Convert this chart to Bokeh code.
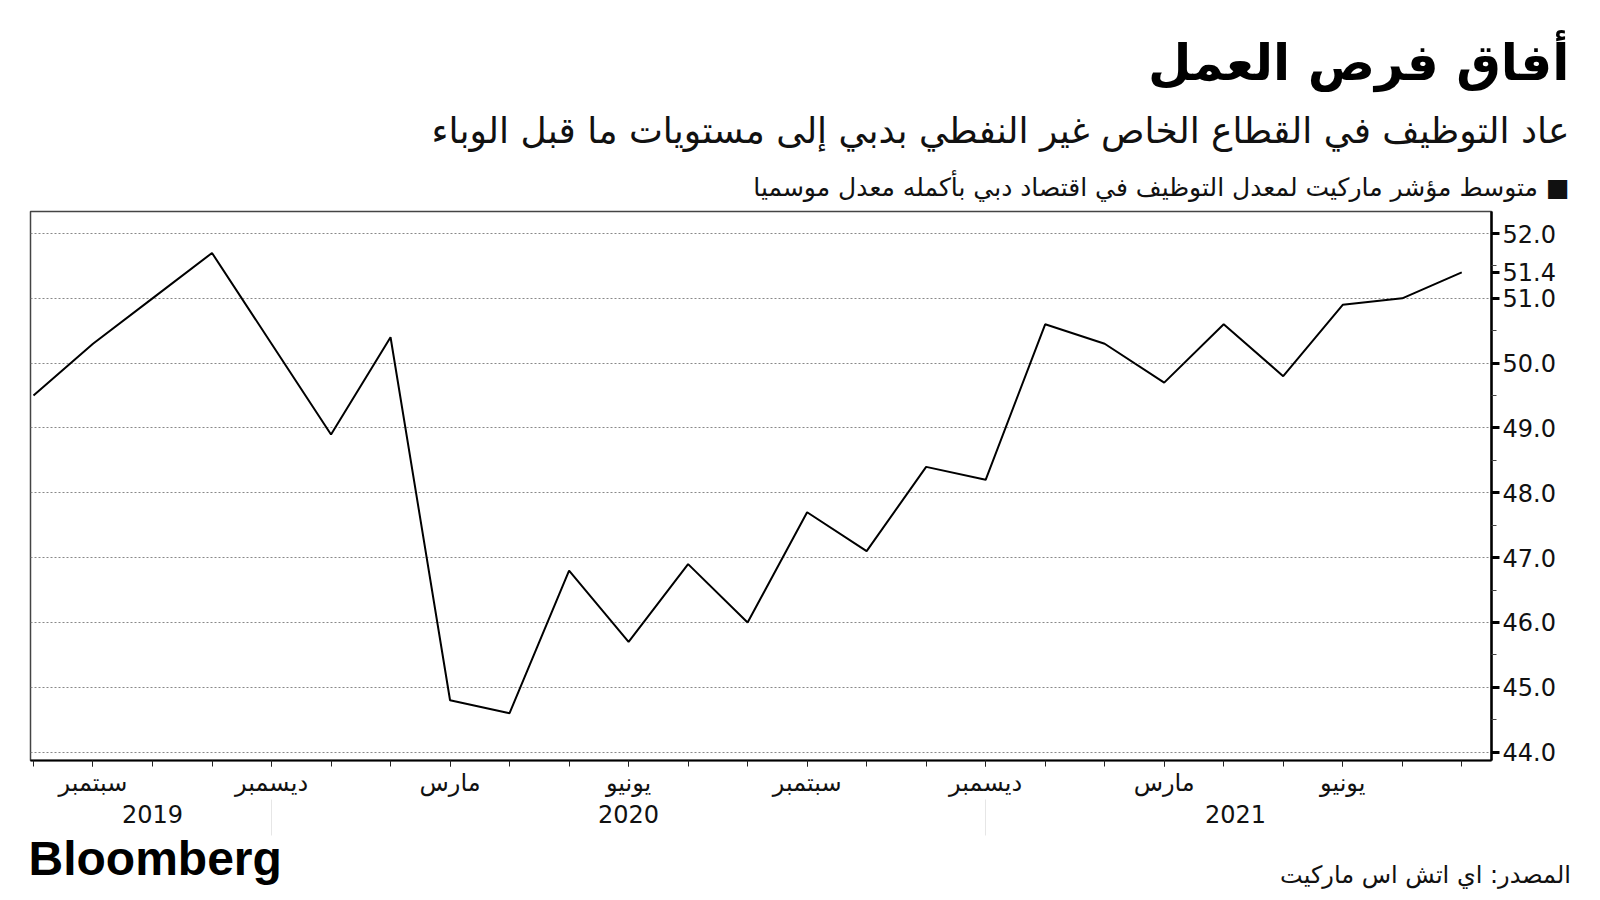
from bokeh.plotting import figure
from bokeh.models import FixedTicker, LinearAxis, Range1d, Title
from bokeh.embed import file_html
from bokeh.resources import INLINE

# ---- data -------------------------------------------------------------
months = ["2019-08", "2019-09", "2019-10", "2019-11", "2019-12",
          "2020-01", "2020-02", "2020-03", "2020-04", "2020-05", "2020-06",
          "2020-07", "2020-08", "2020-09", "2020-10", "2020-11", "2020-12",
          "2021-01", "2021-02", "2021-03", "2021-04", "2021-05", "2021-06",
          "2021-07", "2021-08"]
pmi_employment = [49.5, 50.3, 51.0, 51.7, 50.3,
                  48.9, 50.4, 44.8, 44.6, 46.8, 45.7,
                  46.9, 46.0, 47.7, 47.1, 48.4, 48.2,
                  50.6, 50.3, 49.7, 50.6, 49.8, 50.9,
                  51.0, 51.4]
month_tick_pos = [1, 4, 7, 10, 13, 16, 19, 22]
month_tick_labels = ["سبتمبر", "ديسمبر", "مارس", "يونيو",
                     "سبتمبر", "ديسمبر", "مارس", "يونيو"]
year_tick_pos = [2.0, 10.0, 20.2]
year_tick_labels = ["2019", "2020", "2021"]
year_separators = [4, 16]
y_ticks = [44, 45, 46, 47, 48, 49, 50, 51, 52]

title_text = "أفاق فرص العمل"
subtitle_text = "عاد التوظيف في القطاع الخاص غير النفطي بدبي إلى مستويات ما قبل الوباء"
legend_text = "متوسط مؤشر ماركيت لمعدل التوظيف في اقتصاد دبي بأكمله معدل موسميا"
source_text = "المصدر: اي اتش اس ماركيت"

AR_FONT = "DejaVu Sans"
NUM_FONT = "DejaVu Sans"

x = list(range(len(months)))

X0, X1 = -0.05, 24.5
Y0, Y1 = 43.87, 52.34
FL, FT, FW, FH = 30, 211, 1461, 549

p = figure(width=1600, height=900, output_backend="svg", toolbar_location=None,
           x_range=Range1d(X0, X1), y_range=Range1d(Y0, Y1),
           y_axis_location="right", x_axis_type=None,
           min_border_left=FL, min_border_right=1600 - FL - FW,
           min_border_top=FT, min_border_bottom=900 - FT - FH)
p.background_fill_color = "white"
p.border_fill_color = "white"
p.outline_line_color = "#444444"
p.outline_line_width = 1.5

p.line(x, pmi_employment, line_color="black", line_width=2)

# month axis
xax = LinearAxis(ticker=FixedTicker(ticks=month_tick_pos, minor_ticks=x))
xax.major_label_overrides = {k: v for k, v in zip(month_tick_pos, month_tick_labels)}
xax.axis_line_color = "black"
xax.axis_line_width = 2
xax.major_tick_in = 0
xax.major_tick_out = 6
xax.minor_tick_in = 0
xax.minor_tick_out = 6
xax.major_tick_line_color = "#222222"
xax.minor_tick_line_color = "#222222"
xax.major_label_text_font = AR_FONT
xax.major_label_text_font_size = "24px"
xax.major_label_text_color = "#111111"
xax.major_label_standoff = 2
p.add_layout(xax, "below")

# year axis (minor ticks used as faint year separators)
yrax = LinearAxis(ticker=FixedTicker(ticks=year_tick_pos, minor_ticks=year_separators))
yrax.major_label_overrides = {k: v for k, v in zip(year_tick_pos, year_tick_labels)}
yrax.axis_line_color = None
yrax.major_tick_line_color = None
yrax.major_tick_out = 0
yrax.minor_tick_in = 0
yrax.minor_tick_out = 36
yrax.minor_tick_line_color = "#e6e6e6"
yrax.major_label_text_font = NUM_FONT
yrax.major_label_text_font_size = "24px"
yrax.major_label_text_color = "#111111"
yrax.major_label_standoff = -31
p.add_layout(yrax, "below")

# right value axis, with the last value marked as an extra tick
last = pmi_employment[-1]
yax = p.yaxis[0]
yax.ticker = FixedTicker(ticks=y_ticks + [last],
                         minor_ticks=[v + 0.5 for v in y_ticks[:-1]])
overrides = {v: f"{v:.1f}" for v in y_ticks}
overrides[last] = f"{last:.1f}"
yax.major_label_overrides = overrides
yax.axis_line_color = "black"
yax.axis_line_width = 2.5
yax.major_tick_in = 0
yax.major_tick_out = 8
yax.major_tick_line_width = 3
yax.minor_tick_in = 0
yax.minor_tick_out = 5
yax.major_tick_line_color = "black"
yax.minor_tick_line_color = "#444444"
yax.major_label_text_font = NUM_FONT
yax.major_label_text_font_size = "24px"
yax.major_label_text_color = "#111111"
yax.major_label_standoff = 3

# grids
p.xgrid.grid_line_color = "#888888"
p.xgrid.grid_line_dash = "2 2"
p.xgrid.grid_line_width = 1
p.xgrid.ticker = FixedTicker(ticks=month_tick_pos)
p.ygrid.grid_line_color = "#888888"
p.ygrid.grid_line_dash = "2 2"
p.ygrid.grid_line_width = 1
p.ygrid.ticker = FixedTicker(ticks=y_ticks)

# ---- header (stacked outward from the frame) --------------------------
p.add_layout(Title(text=legend_text + "  ■", align="right", offset=-86, standoff=19,
                   text_font=AR_FONT, text_font_size="25px",
                   text_font_style="normal", text_color="#111111"), "above")
p.add_layout(Title(text=subtitle_text, align="right", offset=-78, standoff=22,
                   text_font=AR_FONT, text_font_size="36px",
                   text_font_style="normal", text_color="#111111"), "above")
p.add_layout(Title(text=title_text, align="right", offset=-78, standoff=10,
                   text_font=AR_FONT, text_font_size="50px",
                   text_font_style="bold", text_color="black"), "above")

# ---- footer -------------------------------------------------------------
p.add_layout(Title(text="Bloomberg", align="left", offset=-2, standoff=8,
                   text_font="Liberation Sans", text_font_size="48px",
                   text_font_style="bold", text_color="black"), "below")

# source line: a label-only axis whose single tick sits so that the text
# ends near the right edge of the picture
source_center_px = 1425
source_pos = X0 + (source_center_px - FL) * (X1 - X0) / FW
srcax = LinearAxis(ticker=FixedTicker(ticks=[source_pos], minor_ticks=[]))
srcax.major_label_overrides = {source_pos: source_text}
srcax.axis_line_color = None
srcax.major_tick_line_color = None
srcax.major_tick_out = 0
srcax.major_tick_in = 0
srcax.minor_tick_out = 0
srcax.minor_tick_in = 0
srcax.major_label_text_font = AR_FONT
srcax.major_label_text_font_size = "24px"
srcax.major_label_text_color = "#111111"
srcax.major_label_standoff = -28
p.add_layout(srcax, "below")

open("out.html", "w").write(file_html(p, INLINE))
